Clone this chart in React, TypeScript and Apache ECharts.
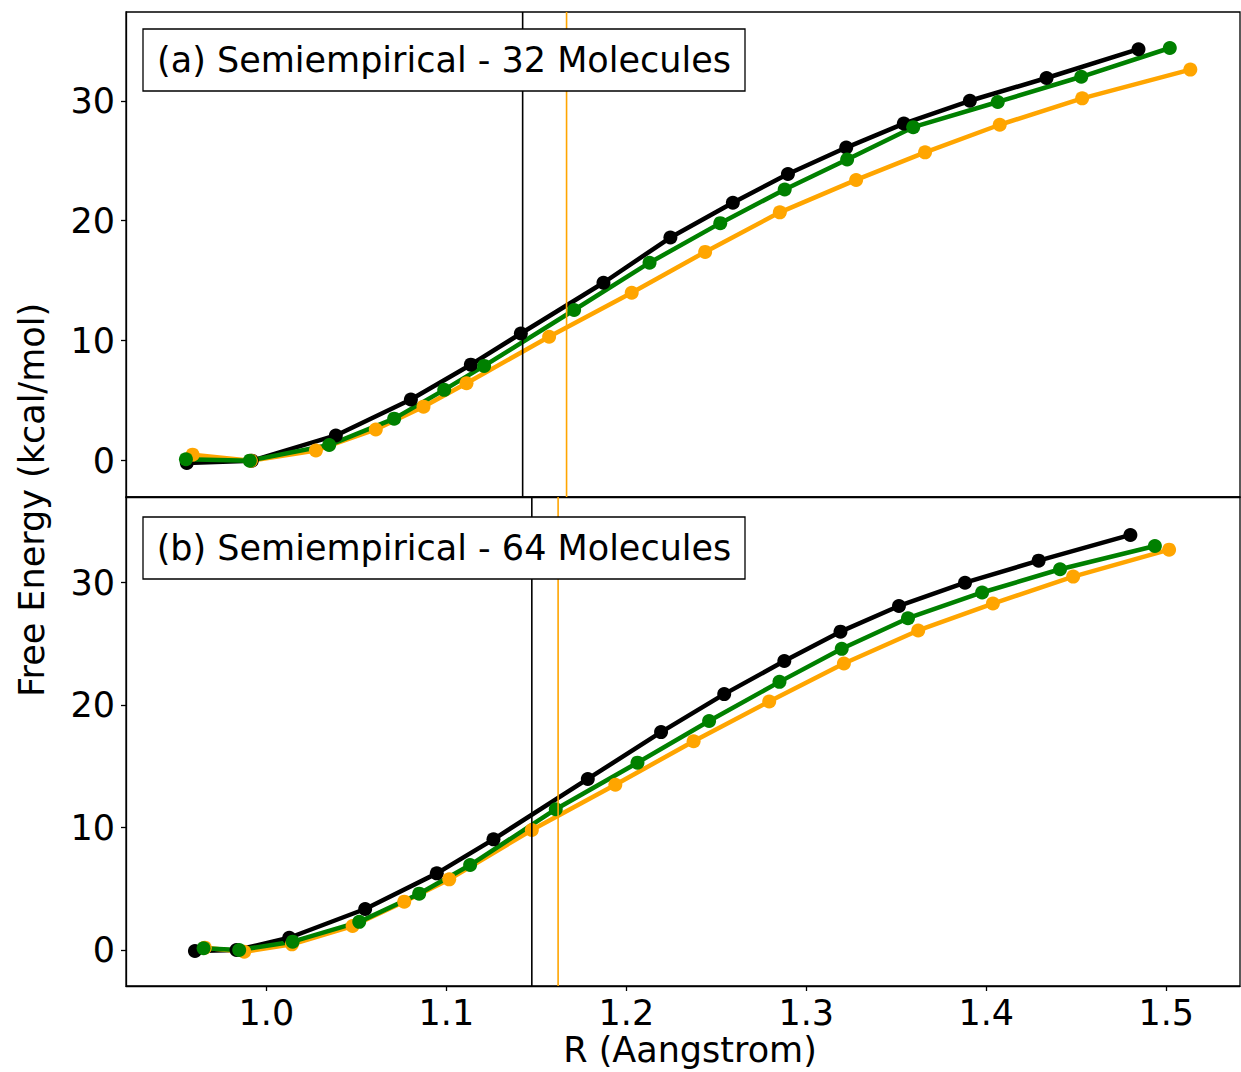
import React, { useEffect, useRef } from "react";
import * as echarts from "echarts";

// Panel (a) - 32 molecules
const R_A_BLACK = [0.9558, 0.9919, 1.0386, 1.0803, 1.1136, 1.1414, 1.1873, 1.2245, 1.2592, 1.2898, 1.3222, 1.3542, 1.3909, 1.4335, 1.4846];
const F_A_BLACK = [-0.2, 0.0, 2.1, 5.1, 8.0, 10.6, 14.83, 18.6, 21.5, 23.9, 26.1, 28.1, 30.0, 31.9, 34.3];
const R_A_GREEN = [0.9553, 0.9908, 1.0349, 1.071, 1.0988, 1.121, 1.171, 1.2129, 1.2522, 1.288, 1.3227, 1.3594, 1.4064, 1.4528, 1.502];
const F_A_GREEN = [0.12, 0.0, 1.3, 3.5, 5.9, 7.9, 12.56, 16.5, 19.8, 22.6, 25.1, 27.8, 29.9, 32.0, 34.4];
const R_A_ORANGE = [0.959, 0.9914, 1.0275, 1.0608, 1.0873, 1.1112, 1.1571, 1.203, 1.2438, 1.2853, 1.3277, 1.366, 1.4075, 1.4533, 1.5134];
const F_A_ORANGE = [0.5, 0.0, 0.85, 2.6, 4.5, 6.45, 10.33, 14.0, 17.4, 20.7, 23.4, 25.7, 28.0, 30.2, 32.6];
const VLINE_A_BLACK = 1.1424;
const VLINE_A_ORANGE = 1.1668;

// Panel (b) - 64 molecules
const R_B_BLACK = [0.9603, 0.9834, 1.0127, 1.0549, 1.0947, 1.1262, 1.1786, 1.2193, 1.2544, 1.2878, 1.319, 1.3515, 1.3882, 1.4291, 1.4801];
const F_B_BLACK = [-0.08, 0.0, 1.0, 3.35, 6.26, 9.04, 13.97, 17.8, 20.9, 23.6, 26.0, 28.1, 30.0, 31.8, 33.9];
const R_B_GREEN = [0.9651, 0.9849, 1.0146, 1.0516, 1.0849, 1.1132, 1.1608, 1.2062, 1.246, 1.2851, 1.3197, 1.3565, 1.3977, 1.441, 1.4937];
const F_B_GREEN = [0.14, 0.0, 0.68, 2.3, 4.6, 6.94, 11.5, 15.3, 18.7, 21.9, 24.6, 27.1, 29.2, 31.1, 33.0];
const R_B_ORANGE = [0.9658, 0.9877, 1.0142, 1.0479, 1.0766, 1.1016, 1.1475, 1.1939, 1.2374, 1.2794, 1.3209, 1.3622, 1.4037, 1.4483, 1.5016];
const F_B_ORANGE = [0.19, -0.14, 0.46, 1.96, 3.95, 5.77, 9.8, 13.5, 17.05, 20.3, 23.4, 26.1, 28.3, 30.5, 32.7];
const VLINE_B_BLACK = 1.1475;
const VLINE_B_ORANGE = 1.1621;

const X_TICKS = [1.0, 1.1, 1.2, 1.3, 1.4, 1.5];
const Y_TICKS = [0, 10, 20, 30];
const TITLE_A = "(a) Semiempirical - 32 Molecules";
const TITLE_B = "(b) Semiempirical - 64 Molecules";
const X_LABEL = "R (Aangstrom)";
const Y_LABEL = "Free Energy (kcal/mol)";

const X_MIN = 0.922;
const X_MAX = 1.541;
const Y_RANGE_A = [-3.03, 37.4];
const Y_RANGE_B = [-2.94, 37.0];

const FONT = "DejaVu Sans";
const FS = 35;
const BLACK = "#000000";
const GREEN = "#008000";
const ORANGE = "#FFA500";

function pairs(xs: number[], ys: number[]) {
  return xs.map((x, i) => [x, ys[i]]);
}

function lineSeries(name: string, xs: number[], ys: number[], color: string, idx: number) {
  return {
    name,
    type: "line",
    xAxisIndex: idx,
    yAxisIndex: idx,
    data: pairs(xs, ys),
    symbol: "circle",
    symbolSize: 14,
    showSymbol: true,
    lineStyle: { color, width: 4.5 },
    itemStyle: { color },
    z: 3,
  };
}

function vline(name: string, x: number, range: number[], color: string, idx: number) {
  return {
    name,
    type: "line",
    xAxisIndex: idx,
    yAxisIndex: idx,
    data: [[x, range[0]], [x, range[1]]],
    symbol: "none",
    showSymbol: false,
    lineStyle: { color, width: 1.6 },
    silent: true,
    z: 4,
  };
}

export default function App() {
  const ref = useRef<HTMLDivElement>(null);
  useEffect(() => {
    if (!ref.current) return;
    const chart = echarts.init(ref.current, undefined, { renderer: "svg" });
    const xAxisBase = (idx: number, showLabels: boolean) => ({
      type: "value",
      gridIndex: idx,
      min: X_MIN,
      max: X_MAX,
      splitLine: { show: false },
      axisLine: { show: true, onZero: false, lineStyle: { color: BLACK, width: 1.3 } },
      axisTick: { show: showLabels, length: 5, inside: false, customValues: X_TICKS, lineStyle: { color: BLACK, width: 1.3 } },
      axisLabel: {
        show: showLabels,
        customValues: X_TICKS,
        formatter: (v: number) => v.toFixed(1),
        fontFamily: FONT,
        fontSize: FS,
        color: BLACK,
        margin: 9,
      },
    });
    const yAxisBase = (idx: number, range: number[]) => ({
      type: "value",
      gridIndex: idx,
      min: range[0],
      max: range[1],
      splitLine: { show: false },
      axisLine: { show: true, onZero: false, lineStyle: { color: BLACK, width: 1.3 } },
      axisTick: { show: true, length: 5, inside: false, customValues: Y_TICKS, lineStyle: { color: BLACK, width: 1.3 } },
      axisLabel: {
        show: true,
        customValues: Y_TICKS,
        formatter: (v: number) => String(Math.round(v)),
        fontFamily: FONT,
        fontSize: FS,
        color: BLACK,
        margin: 11,
      },
    });
    const option: any = {
      animation: false,
      backgroundColor: "#ffffff",
      grid: [
        { left: 126, top: 12, width: 1114, height: 485, show: true, borderColor: BLACK, borderWidth: 1.3, backgroundColor: "transparent" },
        { left: 126, top: 497, width: 1114, height: 489, show: true, borderColor: BLACK, borderWidth: 1.3, backgroundColor: "transparent" },
      ],
      xAxis: [xAxisBase(0, false), xAxisBase(1, true)],
      yAxis: [yAxisBase(0, Y_RANGE_A), yAxisBase(1, Y_RANGE_B)],
      series: [
        lineSeries("black-a", R_A_BLACK, F_A_BLACK, BLACK, 0),
        lineSeries("orange-a", R_A_ORANGE, F_A_ORANGE, ORANGE, 0),
        lineSeries("green-a", R_A_GREEN, F_A_GREEN, GREEN, 0),
        vline("vline-a-black", VLINE_A_BLACK, Y_RANGE_A, BLACK, 0),
        vline("vline-a-orange", VLINE_A_ORANGE, Y_RANGE_A, ORANGE, 0),
        lineSeries("black-b", R_B_BLACK, F_B_BLACK, BLACK, 1),
        lineSeries("orange-b", R_B_ORANGE, F_B_ORANGE, ORANGE, 1),
        lineSeries("green-b", R_B_GREEN, F_B_GREEN, GREEN, 1),
        vline("vline-b-black", VLINE_B_BLACK, Y_RANGE_B, BLACK, 1),
        vline("vline-b-orange", VLINE_B_ORANGE, Y_RANGE_B, ORANGE, 1),
      ],
      graphic: [
        {
          type: "rect",
          shape: { x: 143, y: 29, width: 602, height: 62 },
          style: { fill: "#ffffff", stroke: BLACK, lineWidth: 1.3 },
          z: 10,
        },
        {
          type: "text",
          x: 444,
          y: 60,
          style: { text: TITLE_A, fontFamily: FONT, fontSize: FS, fill: BLACK, textAlign: "center", textVerticalAlign: "middle" },
          z: 11,
        },
        {
          type: "rect",
          shape: { x: 143, y: 517, width: 602, height: 62 },
          style: { fill: "#ffffff", stroke: BLACK, lineWidth: 1.3 },
          z: 10,
        },
        {
          type: "text",
          x: 444,
          y: 548,
          style: { text: TITLE_B, fontFamily: FONT, fontSize: FS, fill: BLACK, textAlign: "center", textVerticalAlign: "middle" },
          z: 11,
        },
        {
          type: "text",
          x: 690,
          y: 1050,
          style: { text: X_LABEL, fontFamily: FONT, fontSize: FS, fill: BLACK, textAlign: "center", textVerticalAlign: "middle" },
        },
        {
          type: "text",
          x: 32,
          y: 500,
          rotation: Math.PI / 2,
          style: { text: Y_LABEL, fontFamily: FONT, fontSize: FS, fill: BLACK, textAlign: "center", textVerticalAlign: "middle" },
        },
      ],
    };
    chart.setOption(option);
    return () => chart.dispose();
  }, []);
  return (
    <div
      ref={ref}
      style={{ position: "absolute", left: 0, top: 0, width: 1241, height: 1072, background: "#fff" }}
    />
  );
}
